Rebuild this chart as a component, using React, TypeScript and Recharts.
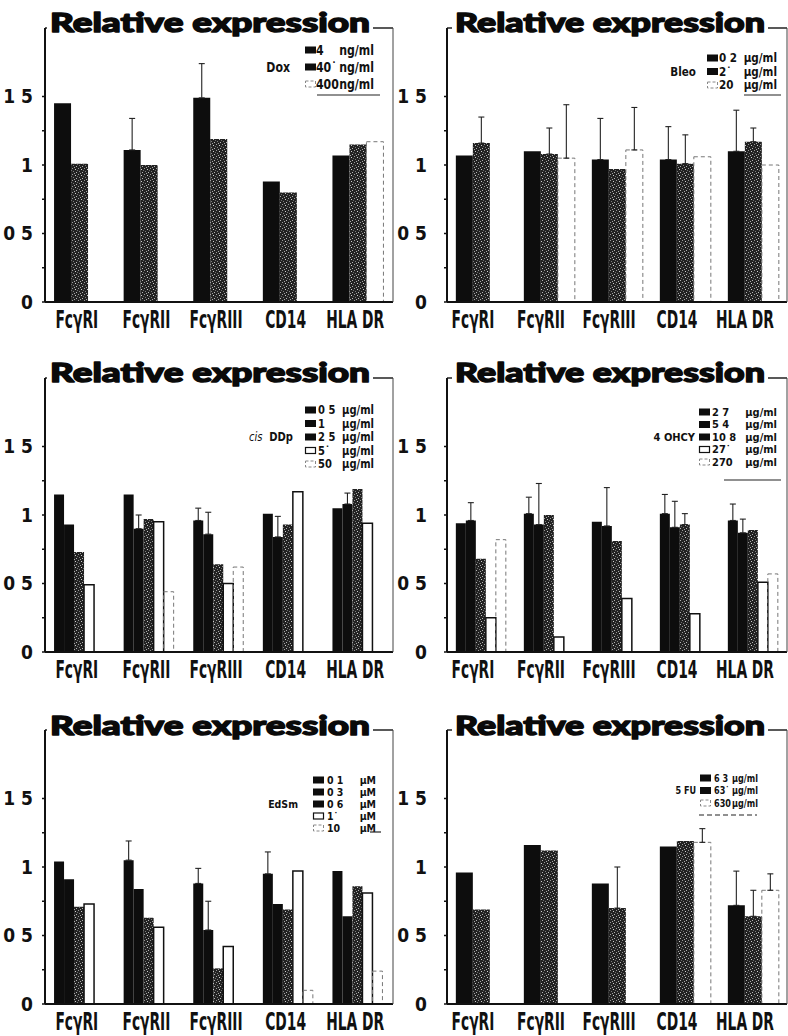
import React from 'react';
import { BarChart, Bar, XAxis, YAxis, ReferenceLine, ErrorBar } from 'recharts';

const NARROW = "'Liberation Sans Narrow', 'DejaVu Sans Condensed', sans-serif";
const TITLE_FONT = "Lato, 'DejaVu Sans', sans-serif";

const categories = ['FcγRI', 'FcγRII', 'FcγRIII', 'CD14', 'HLA DR'];
const yTicks = [0, 0.25, 0.5, 0.75, 1, 1.25, 1.5];
const yTickText = ['0', '', '0 5', '', '1', '', '1 5'];

// Dox
const doxDoses = ['4', '40˙', '400'];
const dox4 = [1.45, 1.11, 1.49, 0.88, 1.07];
const dox40 = [1.01, 1.0, 1.19, 0.8, 1.15];
const dox400 = [null, null, null, null, 1.17];
const dox4Err = [null, 0.23, 0.25, null, null];

// Bleo
const bleoDoses = ['0 2', '2˙', '20'];
const bleo02 = [1.07, 1.1, 1.04, 1.04, 1.1];
const bleo2 = [1.16, 1.08, 0.97, 1.01, 1.17];
const bleo20 = [null, 1.05, 1.11, 1.06, 1.0];
const bleo02Err = [null, null, 0.3, 0.24, 0.3];
const bleo2Err = [0.19, 0.19, null, 0.21, 0.1];
const bleo20Err = [null, 0.39, 0.31, null, null];

// cis DDp
const cisDoses = ['0 5', '1', '2 5', '5˙', '50'];
const cis05 = [1.15, 1.15, 0.96, 1.01, 1.05];
const cis1 = [0.93, 0.9, 0.86, 0.84, 1.08];
const cis25 = [0.73, 0.97, 0.64, 0.93, 1.19];
const cis5 = [0.49, 0.95, 0.5, 1.17, 0.94];
const cis50 = [null, 0.44, 0.62, null, null];
const cis05Err = [null, null, 0.09, null, null];
const cis1Err = [null, 0.1, 0.16, 0.15, 0.08];

// 4 OHCY
const ohcyDoses = ['2 7', '5 4', '10 8', '27˙', '270'];
const ohcy27 = [0.94, 1.01, 0.95, 1.01, 0.96];
const ohcy54 = [0.96, 0.93, 0.92, 0.91, 0.87];
const ohcy108 = [0.68, 1.0, 0.81, 0.93, 0.89];
const ohcy27b = [0.25, 0.11, 0.39, 0.28, 0.51];
const ohcy270 = [0.82, null, null, null, 0.57];
const ohcy27Err = [null, 0.12, null, 0.14, 0.12];
const ohcy54Err = [0.13, 0.3, 0.28, 0.19, 0.1];
const ohcy108Err = [null, null, null, 0.08, null];

// EdSm
const edDoses = ['0 1', '0 3', '0 6', '1˙', '10'];
const ed01 = [1.04, 1.05, 0.88, 0.95, 0.97];
const ed03 = [0.91, 0.84, 0.54, 0.73, 0.64];
const ed06 = [0.71, 0.63, 0.26, 0.69, 0.86];
const ed1 = [0.73, 0.56, 0.42, 0.97, 0.81];
const ed10 = [null, null, null, 0.1, 0.24];
const ed01Err = [null, 0.14, 0.11, 0.16, null];
const ed03Err = [null, null, 0.21, null, null];

// 5 FU
const fuDoses = ['6 3', '63˙', '630'];
const fu63 = [0.96, 1.16, 0.88, 1.15, 0.72];
const fu63b = [0.69, 1.12, 0.7, 1.19, 0.64];
const fu630 = [null, null, null, 1.18, 0.83];
const fu63Err = [null, null, null, null, 0.25];
const fu63bErr = [null, null, 0.3, null, 0.19];
const fu630Err = [null, null, null, 0.1, 0.12];

type Style = 'black' | 'stipple' | 'open' | 'faint';

const LEFT = { left: 0, width: 394, yw: 45, tickMargin: 9, labelDx: -3, titleX: 50, titleW: 320 };
const RIGHT = { left: 394, width: 394, yw: 53, tickMargin: 17, labelDx: -8, titleX: 455, titleW: 310 };
const ROWS = [
  { top: 0, height: 340, plotTop: 28, plotBottom: 302, titleY: 32 },
  { top: 350, height: 340, plotTop: 378, plotBottom: 652, titleY: 382 },
  { top: 700, height: 336, plotTop: 730, plotBottom: 1004, titleY: 735 },
];

const panels = [
  {
    id: 'dox', drug: 'Dox', doses: doxDoses, unit: 'ng/ml', col: LEFT, row: ROWS[0],
    series: [dox4, dox40, dox400], errors: [dox4Err, null, null],
    styles: ['black', 'stipple', 'faint'] as Style[],
    legend: { swX: 305, txtX: 316, unitX: 374, y0: 50, step: 17, fs: 14.5, sx: 0.84, drugX: 290, drugRow: 1, line: { x1: 317, x2: 380, y: 95, dash: false } },
  },
  {
    id: 'bleo', drug: 'Bleo', doses: bleoDoses, unit: 'µg/ml', col: RIGHT, row: ROWS[0],
    series: [bleo02, bleo2, bleo20], errors: [bleo02Err, bleo2Err, bleo20Err],
    styles: ['black', 'stipple', 'faint'] as Style[],
    legend: { swX: 707, txtX: 719, unitX: 777, y0: 58, step: 13.5, fs: 11.8, sx: 0.98, drugX: 696, drugRow: 1, line: { x1: 744, x2: 781, y: 95, dash: false } },
  },
  {
    id: 'cis', drug: 'cis DDp', doses: cisDoses, unit: 'µg/ml', col: LEFT, row: ROWS[1],
    series: [cis05, cis1, cis25, cis5, cis50], errors: [cis05Err, cis1Err, null, null, null],
    styles: ['black', 'black', 'stipple', 'open', 'faint'] as Style[],
    legend: { swX: 305, txtX: 318, unitX: 374, y0: 410, step: 13.5, fs: 11.8, sx: 0.94, drugX: 293, drugRow: 2, line: null },
  },
  {
    id: 'ohcy', drug: '4 OHCY', doses: ohcyDoses, unit: 'µg/ml', col: RIGHT, row: ROWS[1],
    series: [ohcy27, ohcy54, ohcy108, ohcy27b, ohcy270], errors: [ohcy27Err, ohcy54Err, ohcy108Err, null, null],
    styles: ['black', 'black', 'stipple', 'open', 'faint'] as Style[],
    legend: { swX: 699, txtX: 712, unitX: 777, y0: 412, step: 12.5, fs: 11, sx: 1.0, drugX: 695, drugRow: 2, line: { x1: 724, x2: 781, y: 480, dash: false } },
  },
  {
    id: 'ed', drug: 'EdSm', doses: edDoses, unit: 'µM', col: LEFT, row: ROWS[2],
    series: [ed01, ed03, ed06, ed1, ed10], errors: [ed01Err, ed03Err, null, null, null],
    styles: ['black', 'black', 'stipple', 'open', 'faint'] as Style[],
    legend: { swX: 313, txtX: 327, unitX: 376, y0: 780, step: 12, fs: 10.5, sx: 1.0, drugX: 298, drugRow: 2, line: { x1: 370, x2: 381, y: 832, dash: false } },
  },
  {
    id: 'fu', drug: '5 FU', doses: fuDoses, unit: 'µg/ml', col: RIGHT, row: ROWS[2],
    series: [fu63, fu63b, fu630], errors: [fu63Err, fu63bErr, fu630Err],
    styles: ['black', 'stipple', 'faint'] as Style[],
    legend: { swX: 700, txtX: 714, unitX: 758, y0: 778, step: 12.5, fs: 11, sx: 0.82, drugX: 696, drugRow: 1, line: { x1: 699, x2: 757, y: 815, dash: true } },
  },
];

function barProps(style: Style, pid: string) {
  if (style === 'black') return { fill: '#0d0d0d' };
  if (style === 'stipple') return { fill: `url(#${pid})` };
  if (style === 'open') return { fill: '#fff', stroke: '#111', strokeWidth: 1.5 };
  return { fill: 'none', stroke: '#777', strokeWidth: 1, strokeDasharray: '4 3' };
}

function CatTick(props: any) {
  const { x, y, payload, dx } = props;
  return (
    <text
      x={0}
      y={0}
      transform={`translate(${x + dx},${y + 26}) scale(0.64,1)`}
      textAnchor="middle"
      fontSize={24}
      fontWeight={700}
      fontFamily={NARROW}
      fill="#111"
    >
      {payload.value}
    </text>
  );
}

function Panel({ p }: { p: (typeof panels)[number] }) {
  const pid = `stip-${p.id}`;
  const data = categories.map((name, i) => {
    const row: any = { name };
    p.series.forEach((s, k) => {
      row['s' + k] = s[i];
      const e = p.errors[k]?.[i];
      if (e != null) row['e' + k] = [0, e];
    });
    return row;
  });
  const xh = p.row.height - (p.row.plotBottom - p.row.top);
  return (
    <div style={{ position: 'absolute', left: p.col.left, top: p.row.top }}>
      <BarChart
        width={p.col.width}
        height={p.row.height}
        data={data}
        margin={{ top: p.row.plotTop - p.row.top, right: 0, bottom: 0, left: 0 }}
        barCategoryGap="13%"
        barGap={0}
      >
        <defs>
          <pattern id={pid} width="6" height="6" patternUnits="userSpaceOnUse">
            <rect width="6" height="6" fill="#222" />
            <rect x="0" y="0" width="1" height="1" fill="#9a9a9a" />
            <rect x="3" y="1" width="1" height="1" fill="#cfcfcf" />
            <rect x="1" y="3" width="1" height="1" fill="#7d7d7d" />
            <rect x="4" y="4" width="1" height="1" fill="#b5b5b5" />
            <rect x="5" y="2" width="1" height="1" fill="#6d6d6d" />
            <rect x="2" y="5" width="1" height="1" fill="#a8a8a8" />
          </pattern>
        </defs>
        <XAxis
          dataKey="name"
          height={xh}
          interval={0}
          tickLine={false}
          tickSize={0}
          tickMargin={0}
          axisLine={{ stroke: '#111', strokeWidth: 2 }}
          tick={(t: any) => <CatTick {...t} dx={p.col.labelDx} />}
        />
        <YAxis
          width={p.col.yw}
          domain={[0, 2]}
          ticks={yTicks}
          interval={0}
          tickFormatter={(v: number) => yTickText[yTicks.indexOf(v)] ?? ''}
          tickSize={3}
          tickMargin={p.col.tickMargin}
          axisLine={{ stroke: '#111', strokeWidth: 2 }}
          tickLine={{ stroke: '#111', strokeWidth: 1.5 }}
          tick={{ fontSize: 19, fontWeight: 700, fontFamily: NARROW, fill: '#111' }}
        />
        <YAxis
          yAxisId="r"
          orientation="right"
          width={1}
          domain={[0, 2]}
          tick={false}
          tickLine={false}
          axisLine={{ stroke: '#444', strokeWidth: 1 }}
        />
        <ReferenceLine y={2} stroke="#222" strokeWidth={1.5} />
        {p.series.map((_, k) => (
          <Bar key={k} dataKey={'s' + k} isAnimationActive={false} {...barProps(p.styles[k], pid)}>
            {p.errors[k] && (
              <ErrorBar dataKey={'e' + k} width={3} stroke="#222" strokeWidth={1.1} direction="y" />
            )}
          </Bar>
        ))}
      </BarChart>
    </div>
  );
}

function Swatch({ style, x, y }: { style: Style; x: number; y: number }) {
  if (style === 'black' || style === 'stipple') return <rect x={x} y={y - 3.5} width={11} height={7} fill="#0d0d0d" />;
  if (style === 'open') return <rect x={x + 0.5} y={y - 3} width={10} height={6} fill="#fff" stroke="#111" strokeWidth={1.2} />;
  return <rect x={x + 0.5} y={y - 3} width={10} height={6} fill="none" stroke="#888" strokeWidth={1} strokeDasharray="3 2" />;
}

function Overlay() {
  return (
    <svg width={788} height={1036} style={{ position: 'absolute', left: 0, top: 0 }}>
      {panels.map((p) => {
        const L = p.legend;
        const sc = `scale(${L.sx},1)`;
        return (
          <g key={p.id}>
            <rect x={p.col.titleX - 3} y={p.row.titleY - 30} width={p.col.titleW + 6} height={37} fill="#fff" />
            <text
              x={p.col.titleX}
              y={p.row.titleY}
              fontFamily={TITLE_FONT}
              fontWeight={900}
              fontSize={27}
              textLength={p.col.titleW}
              lengthAdjust="spacingAndGlyphs"
              fill="#0a0a0a"
              stroke="#0a0a0a"
              strokeWidth={1.4}
              strokeLinejoin="round"
            >
              Relative expression
            </text>
            <g fontFamily={NARROW} fontWeight={700} fontSize={L.fs} fill="#111">
              {p.doses.map((d, k) => {
                const cy = L.y0 + k * L.step;
                return (
                  <g key={k}>
                    <Swatch style={p.styles[k]} x={L.swX} y={cy} />
                    <text transform={`translate(${L.txtX},${cy + L.fs * 0.36}) ${sc}`}>{d}</text>
                    <text transform={`translate(${L.unitX},${cy + L.fs * 0.36}) ${sc}`} textAnchor="end">
                      {p.unit}
                    </text>
                  </g>
                );
              })}
              <text
                transform={`translate(${L.drugX},${L.y0 + L.drugRow * L.step + L.fs * 0.36}) ${sc}`}
                textAnchor="end"
              >
                {p.drug.startsWith('cis') ? (
                  <>
                    <tspan fontStyle="italic" fontWeight={400}>cis</tspan>
                    <tspan>{'\u00a0\u00a0DDp'}</tspan>
                  </>
                ) : (
                  p.drug
                )}
              </text>
            </g>
            {L.line && (
              <line
                x1={L.line.x1}
                x2={L.line.x2}
                y1={L.line.y}
                y2={L.line.y}
                stroke="#222"
                strokeWidth={1.2}
                strokeDasharray={L.line.dash ? '5 3' : undefined}
              />
            )}
          </g>
        );
      })}
    </svg>
  );
}

export default function App() {
  return (
    <div style={{ position: 'absolute', left: 0, top: 0, width: 788, height: 1036, background: '#fff' }}>
      {panels.map((p) => (
        <Panel key={p.id} p={p} />
      ))}
      <Overlay />
    </div>
  );
}
